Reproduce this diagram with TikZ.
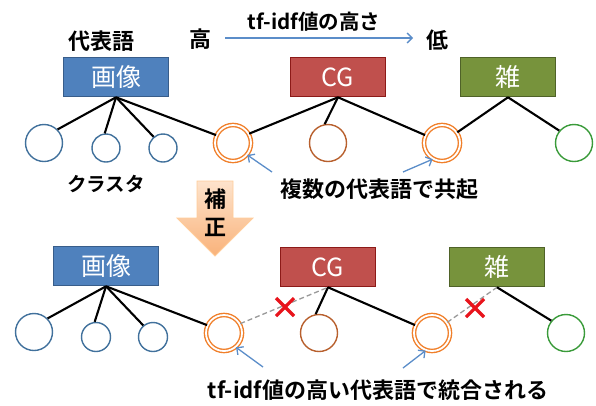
\documentclass[tikz,border=0pt]{standalone}
\usepackage{fontspec}
\setmainfont{Noto Sans CJK JP}[BoldFont={* Bold}]
\usetikzlibrary{arrows.meta,calc}
\definecolor{bfill}{HTML}{4F81BD}\definecolor{bdraw}{HTML}{385D8A}
\definecolor{rfill}{HTML}{C0504D}\definecolor{rdraw}{HTML}{8C1A18}
\definecolor{gfill}{HTML}{77933C}\definecolor{gdraw}{HTML}{4F6228}
\definecolor{ccirc}{HTML}{41719C}\definecolor{brc}{HTML}{B8602E}
\definecolor{grc}{HTML}{3A9B3A}\definecolor{orc}{HTML}{F07F2A}
\definecolor{arrb}{HTML}{5B8DC9}\definecolor{xred}{HTML}{E8141C}
\definecolor{atop}{HTML}{FDE3CC}\definecolor{abot}{HTML}{F9B27A}
\tikzset{
 lbl/.style={font=\bfseries\fontsize{22}{22}\selectfont,inner sep=0pt},
 rep/.style={draw=#1,line width=1.6pt,minimum width=105pt,minimum height=39pt,inner sep=0pt,text=white,font=\fontsize{25}{25}\selectfont},
 cl/.style={circle,draw=#1,line width=1.4pt,fill=white,inner sep=0pt},
 oc/.style={circle,draw=orc,double=white,line width=1.4pt,double distance=1.8pt,inner sep=0pt,minimum size=36pt},
 link/.style={line width=2.1pt,black},
 dlink/.style={line width=1.3pt,gray!80,dash pattern=on 5pt off 3pt},
 barr/.style={arrb,line width=1.3pt,-{Straight Barb[length=5pt,width=10pt]}},
 xmark/.style={xred,line width=3.2pt}
}
\begin{document}
\begin{tikzpicture}[x=1pt,y=-1pt]
\useasboundingbox (0,0) rectangle (596,405);
% header
\node[lbl] (rep) at (101,41) {代表語};
\node[lbl] (hi) at (200,39) {高};
\node[lbl] (lo) at (437,40) {低};
\coordinate (as) at (225,38);\coordinate (ae) at (413,38);
\draw[barr] (as) -- (ae);
\node[lbl,font=\bfseries\fontsize{20.5}{20.5}\selectfont] (tf) at (314,22) {tf-idf値の高さ};
% top row boxes
\node[rep=bdraw,fill=bfill] (A1) at (116,77) {画像};
\node[rep=rdraw,fill=rfill,minimum width=95pt] (B1) at (338,77) {CG};
\node[rep=gdraw,fill=gfill,minimum width=95pt] (C1) at (508,77) {雑};
% top circles
\node[cl=ccirc,minimum size=37pt] (c1) at (44,143) {};
\node[cl=ccirc,minimum size=28pt] (c2) at (106,148) {};
\node[cl=ccirc,minimum size=28pt] (c3) at (163,148) {};
\node[oc] (o1) at (233,143) {};
\node[cl=brc,minimum size=37pt] (c4) at (328,143) {};
\node[oc] (o2) at (442,143) {};
\node[cl=grc,minimum size=37pt] (c5) at (574,143) {};
\draw[link] (A1.south) -- (c1.45);
\draw[link] (A1.south) -- (c2.95);
\draw[link] (A1.south) -- (c3.130);
\draw[link] (A1.south) -- (o1.155);
\draw[link] (B1.south) -- (o1.30);
\draw[link] (B1.south) -- (c4.100);
\draw[link] (B1.south) -- (o2.155);
\draw[link] (C1.south) -- (o2.35);
\draw[link] (C1.south) -- (c5.140);
% small arrows
\coordinate (p1) at (272,172);\coordinate (p2) at (403,172);
\draw[barr] (p1) -- (o1.-40);
\draw[barr] (p2) -- (o2.-120);
\node[lbl,font=\bfseries\fontsize{19.5}{19.5}\selectfont] (clu) at (106,184) {クラスタ};
\node[lbl] (co) at (379,189) {複数の代表語で共起};
% big arrow
\shade[top color=atop,bottom color=abot,draw=orange!40,line width=0.8pt]
 (197,181) -- (233,181) -- (233,218) -- (253,218) -- (215,256) -- (177,218) -- (197,218) -- cycle;
\node[lbl] (h1) at (215,199) {補};
\node[lbl] (h2) at (215,227) {正};
% bottom row boxes
\node[rep=bdraw,fill=bfill] (A2) at (106,266) {画像};
\node[rep=rdraw,fill=rfill,minimum width=95pt] (B2) at (328,267) {CG};
\node[rep=gdraw,fill=gfill,minimum width=95pt] (C2) at (497,267) {雑};
\node[cl=ccirc,minimum size=37pt] (d1) at (34,332) {};
\node[cl=ccirc,minimum size=29pt] (d2) at (96,337) {};
\node[cl=ccirc,minimum size=29pt] (d3) at (153,337) {};
\node[oc] (q1) at (224,333) {};
\node[cl=brc,minimum size=37pt] (d4) at (319,333) {};
\node[oc] (q2) at (432,333) {};
\node[cl=grc,minimum size=37pt] (d5) at (566,333) {};
\draw[link] (A2.south) -- (d1.45);
\draw[link] (A2.south) -- (d2.95);
\draw[link] (A2.south) -- (d3.130);
\draw[link] (A2.south) -- (q1.155);
\draw[dlink] (q1.30) -- (B2.south);
\draw[link] (B2.south) -- (d4.100);
\draw[link] (B2.south) -- (q2.155);
\draw[dlink] (q2.35) -- (C2.south);
\draw[link] (C2.south) -- (d5.140);
\coordinate (x1) at (285,307);\coordinate (x2) at (475,308);
\draw[xmark] ($(x1)+(-9,-9)$) -- ($(x1)+(9,9)$) ($(x1)+(9,-9)$) -- ($(x1)+(-9,9)$);
\draw[xmark] ($(x2)+(-9,-9)$) -- ($(x2)+(9,9)$) ($(x2)+(9,-9)$) -- ($(x2)+(-9,9)$);
\coordinate (p3) at (263,367);\coordinate (p4) at (403,368);
\draw[barr] (p3) -- (q1.-50);
\draw[barr] (p4) -- (q2.-110);
\node[lbl] (bt) at (378,390) {tf-idf値の高い代表語で統合される};
\end{tikzpicture}
\end{document}
